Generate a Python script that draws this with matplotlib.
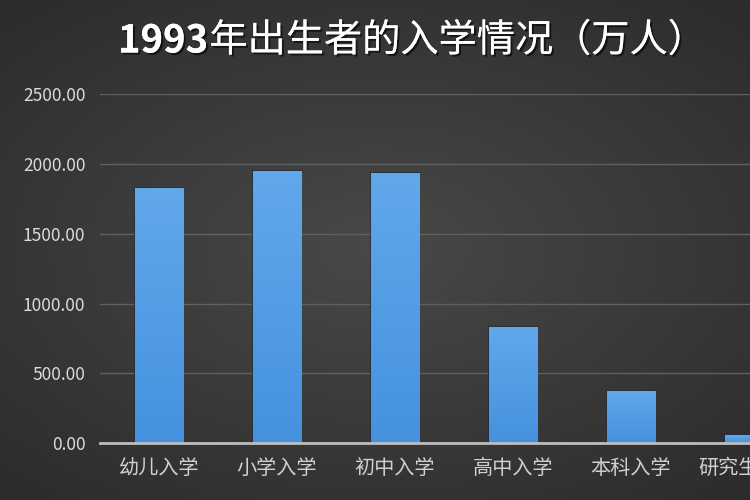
import numpy as np
import matplotlib
matplotlib.use("Agg")
import matplotlib.pyplot as plt
import matplotlib.patheffects as pe

plt.rcParams['font.family'] = ['Noto Sans CJK SC', 'DejaVu Sans']

# data (万人)
categories = ['幼儿入学', '小学入学', '初中入学', '高中入学', '本科入学', '研究生入学']
values = [1825, 1947, 1933, 830, 374, 57]
yticks = [0, 500, 1000, 1500, 2000, 2500]
title_num = '1993'
title_rest = '年出生者的入学情况（万人）'

fig = plt.figure(figsize=(7.5, 5), dpi=100)

# dark radial background
bg = fig.add_axes([0, 0, 1, 1])
bg.axis('off')
gx, gy = np.meshgrid(np.linspace(-1, 1, 300), np.linspace(-1, 1, 200))
rr = np.sqrt((gx * 0.85) ** 2 + (gy * 0.95) ** 2)
shade = np.clip(0.285 - 0.09 * rr, 0.16, 0.29)
bg.imshow(np.dstack([shade, shade, shade]), extent=[0, 1, 0, 1],
          aspect='auto', zorder=0)
bg.set_xlim(0, 1)
bg.set_ylim(0, 1)

# main axes, wider than the figure so the last bar gets cut off
ax = fig.add_axes([100 / 750, 57 / 500, 708 / 750, 348.7 / 500])
ax.set_facecolor('none')

x = np.arange(len(categories))
bars = ax.bar(x, values, width=0.41, color='#4f9be3',
              edgecolor='#22303e', linewidth=1.2, zorder=3)

# light-to-darker vertical gradient inside each bar
grad = np.linspace(0, 1, 100).reshape(-1, 1)
top_c = np.array([0.38, 0.66, 0.92])
bot_c = np.array([0.27, 0.57, 0.87])
img = (bot_c + (top_c - bot_c) * grad).reshape(100, 1, 3)
for b in bars:
    x0, w, h = b.get_x(), b.get_width(), b.get_height()
    im = ax.imshow(img, extent=[x0, x0 + w, 0, h], origin='lower',
                   aspect='auto', zorder=3.5)
    im.set_clip_path(b)

ax.set_xlim(-0.5, 5.5)
ax.set_ylim(0, 2500)
ax.set_yticks(yticks)
ax.set_yticklabels([f'{v:.2f}' for v in yticks])
ax.set_xticks(x)
ax.set_xticklabels(categories)

ax.yaxis.grid(True, color='#606060', linewidth=1.0, zorder=1)
ax.set_axisbelow(True)
for s in ['top', 'right', 'left']:
    ax.spines[s].set_visible(False)
ax.spines['bottom'].set_color('#bdbdbd')
ax.spines['bottom'].set_linewidth(2)
ax.spines['bottom'].set_zorder(5)

ax.tick_params(axis='y', length=0, pad=10.5, labelsize=12.5,
               labelcolor='#dcdcdc')
ax.tick_params(axis='x', length=0, pad=10.5, labelsize=14.5,
               labelcolor='#d0d0d0')

shadow = [pe.withSimplePatchShadow(offset=(1.5, -1.5), shadow_rgbFace='black',
                                   alpha=0.6), pe.Normal()]
t1 = fig.text(118 / 750, 1 - 41 / 500, title_num, fontsize=27.5,
              fontweight='bold', color='white', ha='left', va='center',
              path_effects=shadow)
ax.annotate(title_rest, xy=(1, 0), xycoords=t1, xytext=(1, 0),
            textcoords='offset points', ha='left', va='bottom',
            fontsize=27.5, color='white', path_effects=shadow,
            annotation_clip=False)

fig.savefig('out.png', dpi=100)
